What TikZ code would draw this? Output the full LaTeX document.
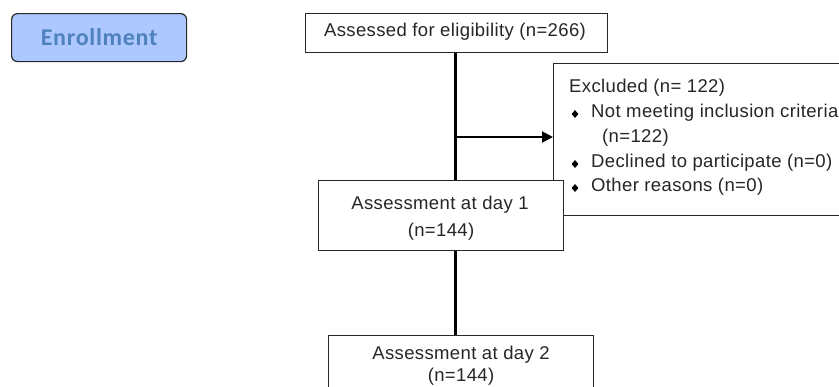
\documentclass[tikz,border=0pt]{standalone}
\usepackage{fontspec}
\setmainfont{Liberation Sans}[LetterSpace=2]
\newfontfamily\enrfont{Carlito}[LetterSpace=3]
\usetikzlibrary{arrows.meta,shapes.geometric}
\definecolor{enrfill}{RGB}{172,200,255}
\definecolor{enrtext}{RGB}{79,129,189}
\definecolor{boxline}{RGB}{40,40,40}
\begin{document}
\begin{tikzpicture}[x=1pt,y=-1pt,
  flowbox/.style={draw=boxline,line width=1.3pt,fill=white,rectangle,inner sep=0pt},
  txt/.style={inner sep=0pt,font=\fontsize{18.5}{22}\selectfont,text=black!85},
  bullet/.style={diamond,fill=black,inner sep=0pt,minimum width=7pt,minimum height=8pt},
  trunk/.style={line width=3pt,black},
  branch/.style={line width=2pt,black,-{Triangle[length=11pt,width=11pt]}}
]
\useasboundingbox (0,0) rectangle (839,386);
\clip (0,0) rectangle (839,386);
\fill[white] (0,0) rectangle (839,386);

% Enrollment tag
\node[draw=boxline,line width=1.2pt,fill=enrfill,rounded corners=6pt,
  minimum width=175pt,minimum height=48pt,anchor=north west,inner sep=0pt,
  text=enrtext,font=\enrfont\bfseries\fontsize{24}{26}\selectfont] (enr) at (11,13) {Enrollment};

% Boxes
\node[flowbox,minimum width=302pt,minimum height=39pt,anchor=north west] (assess) at (305,13) {};
\node[txt] (assesst) at (455,32) {Assessed for eligibility (n=266)};

\node[flowbox,minimum width=350pt,minimum height=152pt,anchor=north west] (excl) at (553,63) {};
\node[txt,anchor=west] (ex0) at (569,88) {Excluded (n= 122)};
\node[bullet] (b1) at (575,114) {};
\node[txt,anchor=west] (ex1) at (591,113) {Not meeting inclusion criteria};
\node[txt,anchor=west] (ex1b) at (602,138) {(n=122)};
\node[bullet] (b2) at (575,164) {};
\node[txt,anchor=west] (ex2) at (591,163) {Declined to participate (n=0)};
\node[bullet] (b3) at (575,188) {};
\node[txt,anchor=west] (ex3) at (591,187) {Other reasons (n=0)};

\node[flowbox,minimum width=245pt,minimum height=70pt,anchor=north west] (day1) at (318,180) {};
\node[txt] (d1a) at (440,205) {Assessment at day 1};
\node[txt] (d1b) at (441,232) {(n=144)};

\node[flowbox,minimum width=265pt,minimum height=80pt,anchor=north west] (day2) at (328,335) {};
\node[txt] (d2a) at (461,355) {Assessment at day 2};
\node[txt] (d2b) at (461,377) {(n=144)};

% Connectors
\coordinate (split) at (455,137);
\draw[trunk] (assess.south -| split) -- (day1.north -| split);
\draw[trunk] (day1.south -| split) -- (day2.north -| split);
\draw[branch] (split) -- (split -| excl.west);
\end{tikzpicture}
\end{document}
